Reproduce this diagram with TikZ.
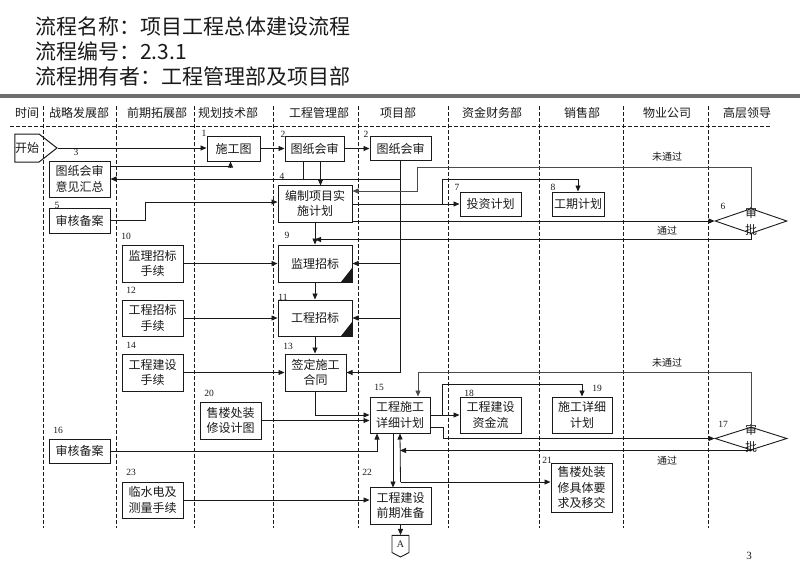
\documentclass[tikz,border=0pt]{standalone}
\usepackage{fontspec}
\setmainfont{Noto Sans CJK SC}
\newfontfamily\numfont{Liberation Serif}
\usetikzlibrary{arrows.meta, shapes.geometric, shapes.symbols, calc}
\definecolor{ink}{HTML}{1A1A1A}
\definecolor{barGray}{HTML}{6E6E6E}
\definecolor{loopGray}{HTML}{4A4A4A}
\tikzset{
  title/.style={anchor=base west, inner sep=0pt, text=ink, font=\fontsize{21}{25}\selectfont},
  lane/.style={inner sep=0pt, text=ink, font=\fontsize{12}{14}\selectfont},
  sep/.style={draw=ink, line width=0.7pt, dash pattern=on 3.5pt off 2.5pt},
  proc/.style={rectangle, draw=ink, line width=1pt, fill=white, text=ink, align=center,
               inner sep=0pt, minimum width=61pt, minimum height=37pt,
               font=\fontsize{12}{15.5}\selectfont},
  sub/.style={proc, minimum width=74pt,
              path picture={\fill[ink] (path picture bounding box.south east)
                            -- ++(-11pt,0pt) -- ++(11pt,14pt) -- cycle;}},
  start/.style={signal, signal to=east, signal pointer angle=76, draw=ink, line width=1pt,
                text=ink, inner sep=0pt, minimum width=42pt, minimum height=28pt,
                font=\fontsize{12}{14}\selectfont},
  offpage/.style={signal, signal to=south, signal pointer angle=125, draw=ink, line width=0.9pt,
                  text=ink, inner sep=0pt, minimum width=17pt, minimum height=19pt,
                  font=\numfont\fontsize{10}{10}\selectfont},
  decision/.style={diamond, draw=ink, line width=0.9pt, fill=white, inner sep=0pt,
                   minimum width=72pt, minimum height=25pt},
  dtext/.style={align=center, inner sep=0pt, text=ink, font=\fontsize{12}{17}\selectfont},
  num/.style={inner sep=0pt, text=ink, font=\numfont\fontsize{9.5}{10}\selectfont},
  anno/.style={inner sep=0pt, text=ink, font=\fontsize{10}{12}\selectfont},
  flow/.style={-{Triangle[length=6pt,width=5pt]}, draw=ink, line width=0.8pt},
  link/.style={draw=ink, line width=0.8pt},
  back/.style={-{Triangle[length=6pt,width=5pt]}, draw=loopGray, line width=0.6pt},
}

\begin{document}
\begin{tikzpicture}[x=1pt, y=-1pt]
  \fill[white] (0,0) rectangle (800,576);
  \useasboundingbox (0,0) rectangle (800,576);

  % --- title block ---
  \node[title] (ttlName)  at (35,34) {流程名称：项目工程总体建设流程};
  \node[title] (ttlCode)  at (35,59) {流程编号：2.3.1};
  \node[title] (ttlOwner) at (35,84) {流程拥有者：工程管理部及项目部};
  \fill[barGray] (0,94) rectangle (800,97.5);

  % --- swimlane header and lane separators ---
  \foreach \name/\cx [count=\i] in {时间/27, 战略发展部/79, 前期拓展部/157, 规划技术部/228,
      工程管理部/319, 项目部/398, 资金财务部/492, 销售部/582, 物业公司/667, 高层领导/747}
    \node[lane] (lane\i) at (\cx,113) {\name};
  \draw[sep] (10,126) -- (770,126);
  \foreach \lx in {43,116,194,273,358,448,539,623,708}
    \draw[sep] (\lx,106) -- (\lx,528);

  % --- nodes ---
  \node[start]    (start)   at (27,148)      {开始};
  \node[proc, minimum width=53pt, minimum height=25pt] (sgt)   at (233.5,148.5) {施工图};
  \node[proc, minimum width=59pt, minimum height=25pt] (tzhs1) at (314.5,148.5) {图纸会审};
  \node[proc, minimum height=24pt] (tzhs2)   at (400.5,148.5) {图纸会审};
  \node[proc, minimum height=36pt] (yjhz)    at (79.5,179)    {图纸会审\\意见汇总};
  \node[proc, minimum width=74pt]  (bianzhi) at (315,203.5)   {编制项目实\\施计划};
  \node[proc, minimum height=25pt] (shba1)   at (79.5,220.5)  {审核备案};
  \node[proc, minimum height=24pt] (tzjh)    at (490.5,204)   {投资计划};
  \node[proc, minimum width=52pt, minimum height=24pt] (gqjh) at (578,204) {工期计划};
  \node[decision, label={[dtext]center:审\\批}] (sp6) at (751,221) {};

  \node[sub]      (jlzb)    at (315,263.5)   {监理招标};
  \node[proc]     (jlsx)    at (152.5,263.5) {监理招标\\手续};
  \node[sub, minimum height=36pt] (gczb) at (315,318) {工程招标};
  \node[proc, minimum height=36pt] (gcsx) at (152.5,318) {工程招标\\手续};
  \node[proc]     (qdht)    at (315.5,372.5) {签定施工\\合同};
  \node[proc]     (jssx)    at (152.5,372.5) {工程建设\\手续};

  \node[proc, minimum width=60pt, minimum height=36pt] (sgxj) at (400,415) {工程施工\\详细计划};
  \node[proc]     (zxt)     at (230.5,420.5) {售楼处装\\修设计图};
  \node[proc, minimum height=24pt] (shba2) at (79.5,451) {审核备案};
  \node[proc, minimum height=36pt] (zjl)   at (490.5,415) {工程建设\\资金流};
  \node[proc, minimum width=60pt, minimum height=36pt] (sgjh) at (582,415) {施工详细\\计划};
  \node[decision, minimum height=23pt, label={[dtext]center:审\\批}] (sp17) at (751,438.5) {};
  \node[proc, minimum height=49pt] (ysyq) at (581.5,487.5) {售楼处装\\修具体要\\求及移交};
  \node[proc]     (qqzb)    at (400.5,505.5) {工程建设\\前期准备};
  \node[proc, minimum height=36pt] (lsd) at (152.5,500) {临水电及\\测量手续};
  \node[offpage]  (conA)    at (400.5,544)   {A};

  % --- step numbers ---
  \foreach \nm/\t/\x/\y in {a/1/204/133, b/2/283/134, c/2/366/134, d/3/76/152, e/4/282/176,
      f/5/57/205, g/6/723/206, h/7/457/187, i/8/553/187, j/9/287/235, k/10/126/236,
      l/11/283/297, m/12/131/290, n/13/288/346, o/14/131/345, p/15/379/387, q/16/58/430,
      r/17/723/424, s/18/469/393, t/19/597/388, u/20/209/393, v/21/547/460, w/22/367/472,
      x/23/131/472}
    \node[num] (num\nm) at (\x,\y) {\t};

  % --- bend points ---
  \coordinate (nb6)  at (417,167);
  \coordinate (nb17) at (418,372);
  \coordinate (j17)  at (443,438.5);
  \coordinate (j21)  at (400.5,482);

  % --- drawings review ---
  \draw[flow] (start.east) -- (start.east -| sgt.west);
  \draw[flow] (sgt) -- (tzhs1);
  \draw[flow] (tzhs1) -- (tzhs2);
  \draw[flow] ([yshift=-6pt]yjhz.north east) -| ([xshift=-3pt]sgt.south);
  \draw[flow] (tzhs2.south) |- (qdht.east);
  \draw[flow] (tzhs2.south |- yjhz.east) -- (yjhz.east);
  \draw[flow] (tzhs2.south |- jlzb.east) -- (jlzb.east);
  \draw[flow] (tzhs2.south |- gczb.east) -- (gczb.east);
  \draw[link] ([xshift=-11.5pt]tzhs1.south) -- ++(0,18);
  \draw[flow] ([xshift=6pt]tzhs1.south) -- ++(0,24);

  % --- implementation plan and approval 6 ---
  \draw[flow] (shba1.east) -- ++(35,0) |- ([yshift=1.5pt]bianzhi.west);
  \draw[flow] (bianzhi.east |- tzjh.west) -- (tzjh.west);
  \draw[flow] ([xshift=-17pt]tzjh.west) |- ([yshift=12pt]gqjh.north) -- (gqjh.north);
  \draw[flow] (bianzhi.south east |- sp6.west) -- (sp6.west);
  \draw[back] (sp6.north) |- (nb6) |- ([yshift=12.5pt]bianzhi.east);
  \draw[flow] (sp6.south) |- ([yshift=-17pt]bianzhi.south);
  \node[anno] (fail6) at (667,157) {未通过};
  \node[anno] (pass6) at (667,231) {通过};

  % --- tendering and contract ---
  \draw[flow] (bianzhi) -- (jlzb);
  \draw[flow] (jlzb) -- (gczb);
  \draw[flow] (gczb.south) -- (gczb.south |- qdht.north);
  \draw[flow] (jlsx) -- (jlzb);
  \draw[flow] (gcsx) -- (gczb);
  \draw[flow] (jssx) -- (qdht);

  % --- detailed plan and approval 17 ---
  \draw[flow] (qdht.south) |- (sgxj.west);
  \draw[flow] (zxt.east) -- (zxt.east -| sgxj.west);
  \draw[flow] (shba2.east) -| ([xshift=-23pt]sgxj.south);
  \draw[back] (sp17.north) |- (nb17) -- ([xshift=18pt]sgxj.north);
  \draw[flow] (sgxj.east |- zjl.west) -- (zjl.west);
  \draw[flow] ([xshift=-17pt]zjl.west) |- ([yshift=12pt]sgjh.north) -- (sgjh.north);
  \draw[flow] ([yshift=-12pt]sgxj.east) -| (j17) -- (sp17.west);
  \draw[flow] (sp17.south) -- (sp17.south -| sgxj.south);
  \node[anno] (fail17) at (667,363) {未通过};
  \node[anno] (pass17) at (667,461) {通过};

  % --- preparation ---
  \draw[flow] ([xshift=-7pt]sgxj.south) -- ++(0,54);
  \draw[flow] (j21) -- (sgxj.south);
  \draw[flow] (j21) -- (j21 -| ysyq.west);
  \draw[flow] (lsd.east) -- (lsd.east -| qqzb.west);
  \draw[flow] (qqzb.south) -- (qqzb.south |- conA.north);

  \node[num, font=\numfont\fontsize{11}{11}\selectfont] (page) at (749,556) {3};
\end{tikzpicture}
\end{document}
